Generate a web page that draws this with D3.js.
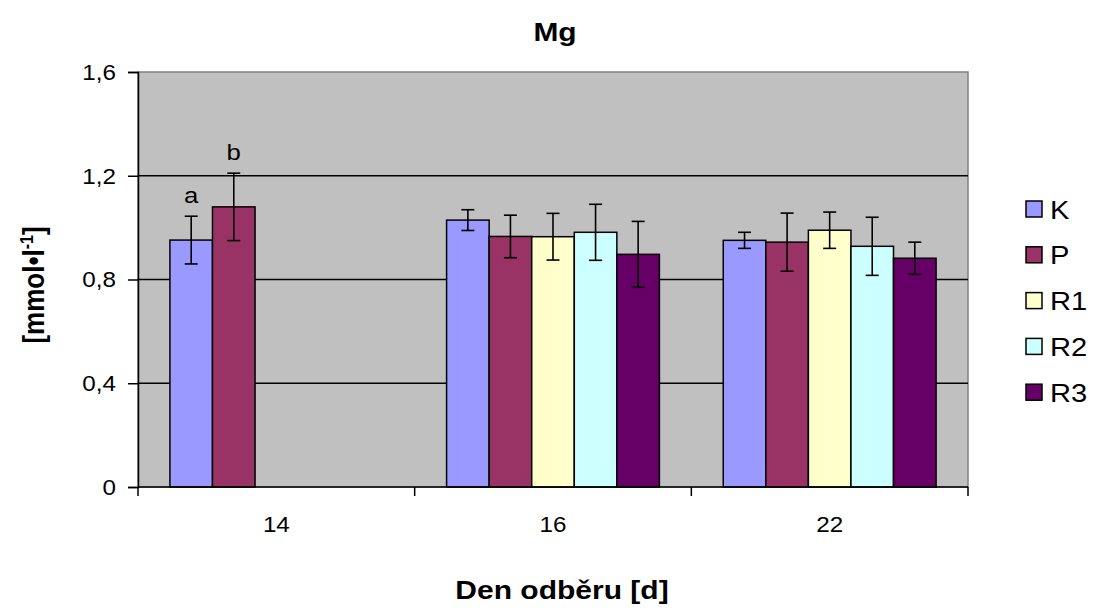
<!DOCTYPE html>
<html>
<head>
<meta charset="utf-8">
<script src="https://cdn.jsdelivr.net/npm/d3@7"></script>
<style>
  html, body { margin: 0; padding: 0; background: #fff; }
  text { font-family: "Liberation Sans", Arial, sans-serif; fill: #000; }
</style>
</head>
<body>
<svg id="chart" width="1094" height="608"></svg>
<script>
// ---- data ----
const categories = ["14", "16", "22"];
const seriesNames = ["K", "P", "R1", "R2", "R3"];
const seriesColors = ["#9999FF", "#993366", "#FFFFCC", "#CCFFFF", "#660066"];
const valuesK  = [0.952, 1.029, 0.951];
const valuesP  = [1.080, 0.966, 0.944];
const valuesR1 = [null, 0.965, 0.990];
const valuesR2 = [null, 0.982, 0.928];
const valuesR3 = [null, 0.897, 0.882];
const errK  = [0.092, 0.040, 0.031];
const errP  = [0.130, 0.082, 0.112];
const errR1 = [null, 0.090, 0.070];
const errR2 = [null, 0.108, 0.112];
const errR3 = [null, 0.127, 0.062];
const sigLabels = [
  { category: "14", series: "K", text: "a" },
  { category: "14", series: "P", text: "b" }
];
const yTicks = [0, 0.4, 0.8, 1.2, 1.6];
const yTickLabels = ["0", "0,4", "0,8", "1,2", "1,6"];
const titleText = "Mg";
const xTitle = "Den odběru [d]";

const allValues = [valuesK, valuesP, valuesR1, valuesR2, valuesR3];
const allErrors = [errK, errP, errR1, errR2, errR3];

// ---- layout ----
const svg = d3.select("#chart");
const plot = { left: 138, right: 968, top: 72, bottom: 487 };

const x0 = d3.scaleBand().domain(categories).range([plot.left, plot.right]).paddingInner(0).paddingOuter(0);
const barW = x0.bandwidth() / (seriesNames.length + 1.5);
const x1 = d3.scaleBand().domain(seriesNames)
  .range([barW * 0.75, barW * 0.75 + barW * seriesNames.length]);
const y = d3.scaleLinear().domain([0, 1.6]).range([plot.bottom, plot.top]);

// helper: text placed at (x,y) with a horizontal stretch
function stretchedText(g, x, yy, sx, str) {
  return g.append("text")
    .attr("transform", `translate(${x},${yy}) scale(${sx},1)`)
    .text(str);
}

// plot background
svg.append("rect")
  .attr("x", plot.left).attr("y", plot.top)
  .attr("width", plot.right - plot.left).attr("height", plot.bottom - plot.top)
  .attr("fill", "#C0C0C0").attr("stroke", "#808080").attr("stroke-width", 1.5);

// gridlines
svg.append("g").selectAll("line").data(yTicks.filter(t => t > 0 && t < 1.6)).join("line")
  .attr("x1", plot.left).attr("x2", plot.right)
  .attr("y1", d => y(d)).attr("y2", d => y(d))
  .attr("stroke", "#000").attr("stroke-width", 1.5);

// bars
const rows = [];
seriesNames.forEach((s, si) => {
  categories.forEach((c, ci) => {
    const v = allValues[si][ci];
    if (v !== null) rows.push({ s, si, c, v, e: allErrors[si][ci] });
  });
});

svg.append("g").selectAll("rect").data(rows).join("rect")
  .attr("x", d => x0(d.c) + x1(d.s))
  .attr("y", d => y(d.v))
  .attr("width", x1.bandwidth())
  .attr("height", d => y(0) - y(d.v))
  .attr("fill", d => seriesColors[d.si])
  .attr("stroke", "#000").attr("stroke-width", 1.5);

// error bars
const eg = svg.append("g").attr("stroke", "#000").attr("stroke-width", 1.6);
const cx = d => x0(d.c) + x1(d.s) + x1.bandwidth() / 2;
const capW = 6.5;
eg.selectAll("line.v").data(rows).join("line").attr("class", "v")
  .attr("x1", cx).attr("x2", cx)
  .attr("y1", d => y(d.v + d.e)).attr("y2", d => y(d.v - d.e));
eg.selectAll("line.t").data(rows).join("line").attr("class", "t")
  .attr("x1", d => cx(d) - capW).attr("x2", d => cx(d) + capW)
  .attr("y1", d => y(d.v + d.e)).attr("y2", d => y(d.v + d.e));
eg.selectAll("line.b").data(rows).join("line").attr("class", "b")
  .attr("x1", d => cx(d) - capW).attr("x2", d => cx(d) + capW)
  .attr("y1", d => y(d.v - d.e)).attr("y2", d => y(d.v - d.e));

// significance letters
const sg = svg.append("g").attr("font-size", 23).attr("text-anchor", "middle");
sigLabels.forEach(d => {
  const si = seriesNames.indexOf(d.series), ci = categories.indexOf(d.category);
  const px = x0(d.category) + x1(d.series) + x1.bandwidth() / 2;
  const py = y(allValues[si][ci] + allErrors[si][ci]) - 13;
  stretchedText(sg, px, py, 1.12, d.text);
});

// y axis
const yAxis = d3.axisLeft(y).tickValues(yTicks)
  .tickFormat((d, i) => yTickLabels[i]).tickSize(10).tickPadding(12);
const gy = svg.append("g").attr("transform", `translate(${plot.left},0)`).call(yAxis);
gy.select(".domain").attr("stroke", "#000").attr("stroke-width", 1.5);
gy.selectAll(".tick line").attr("stroke", "#000").attr("stroke-width", 1.5);
gy.selectAll(".tick text")
  .attr("font-size", 22).attr("font-family", "Liberation Sans, Arial, sans-serif").attr("fill", "#000")
  .attr("dy", "0.34em")
  .attr("transform", "translate(-22,0) scale(1.1,1) translate(22,0)");

// x axis
const boundaries = categories.map(c => x0(c)).concat([plot.right]);
svg.append("line").attr("x1", plot.left).attr("x2", plot.right)
  .attr("y1", plot.bottom).attr("y2", plot.bottom)
  .attr("stroke", "#000").attr("stroke-width", 1.5);
svg.append("g").selectAll("line").data(boundaries).join("line")
  .attr("x1", d => d).attr("x2", d => d)
  .attr("y1", plot.bottom).attr("y2", plot.bottom + 9)
  .attr("stroke", "#000").attr("stroke-width", 1.5);
const xg = svg.append("g").attr("font-size", 22).attr("text-anchor", "middle");
categories.forEach(c => stretchedText(xg, x0(c) + x0.bandwidth() / 2, 532, 1.1, c));

// titles
const tg = svg.append("g").attr("font-weight", "bold").attr("text-anchor", "middle");
stretchedText(tg, 555, 41, 1.15, titleText).attr("font-size", 26);
stretchedText(tg, 562, 599, 1.2, xTitle).attr("font-size", 25);

const yt = svg.append("text")
  .attr("transform", "translate(44,285) scale(1.12,1) rotate(-90)")
  .attr("text-anchor", "middle").attr("font-size", 26).attr("font-weight", "bold");
yt.append("tspan").text("[mmol•l");
yt.append("tspan").attr("font-size", 16).attr("dy", -10).text("-1");
yt.append("tspan").attr("dy", 10).text("]");

// legend
const lg = svg.append("g");
const legendY0 = 209, legendStep = 45.8;
seriesNames.forEach((s, i) => {
  const ly = legendY0 + i * legendStep;
  lg.append("rect").attr("x", 1026).attr("y", ly - 8).attr("width", 16).attr("height", 16)
    .attr("fill", seriesColors[i]).attr("stroke", "#000").attr("stroke-width", 1.5);
  stretchedText(lg, 1050, ly + 9.5, 1.12, s).attr("font-size", 26);
});
</script>
</body>
</html>
